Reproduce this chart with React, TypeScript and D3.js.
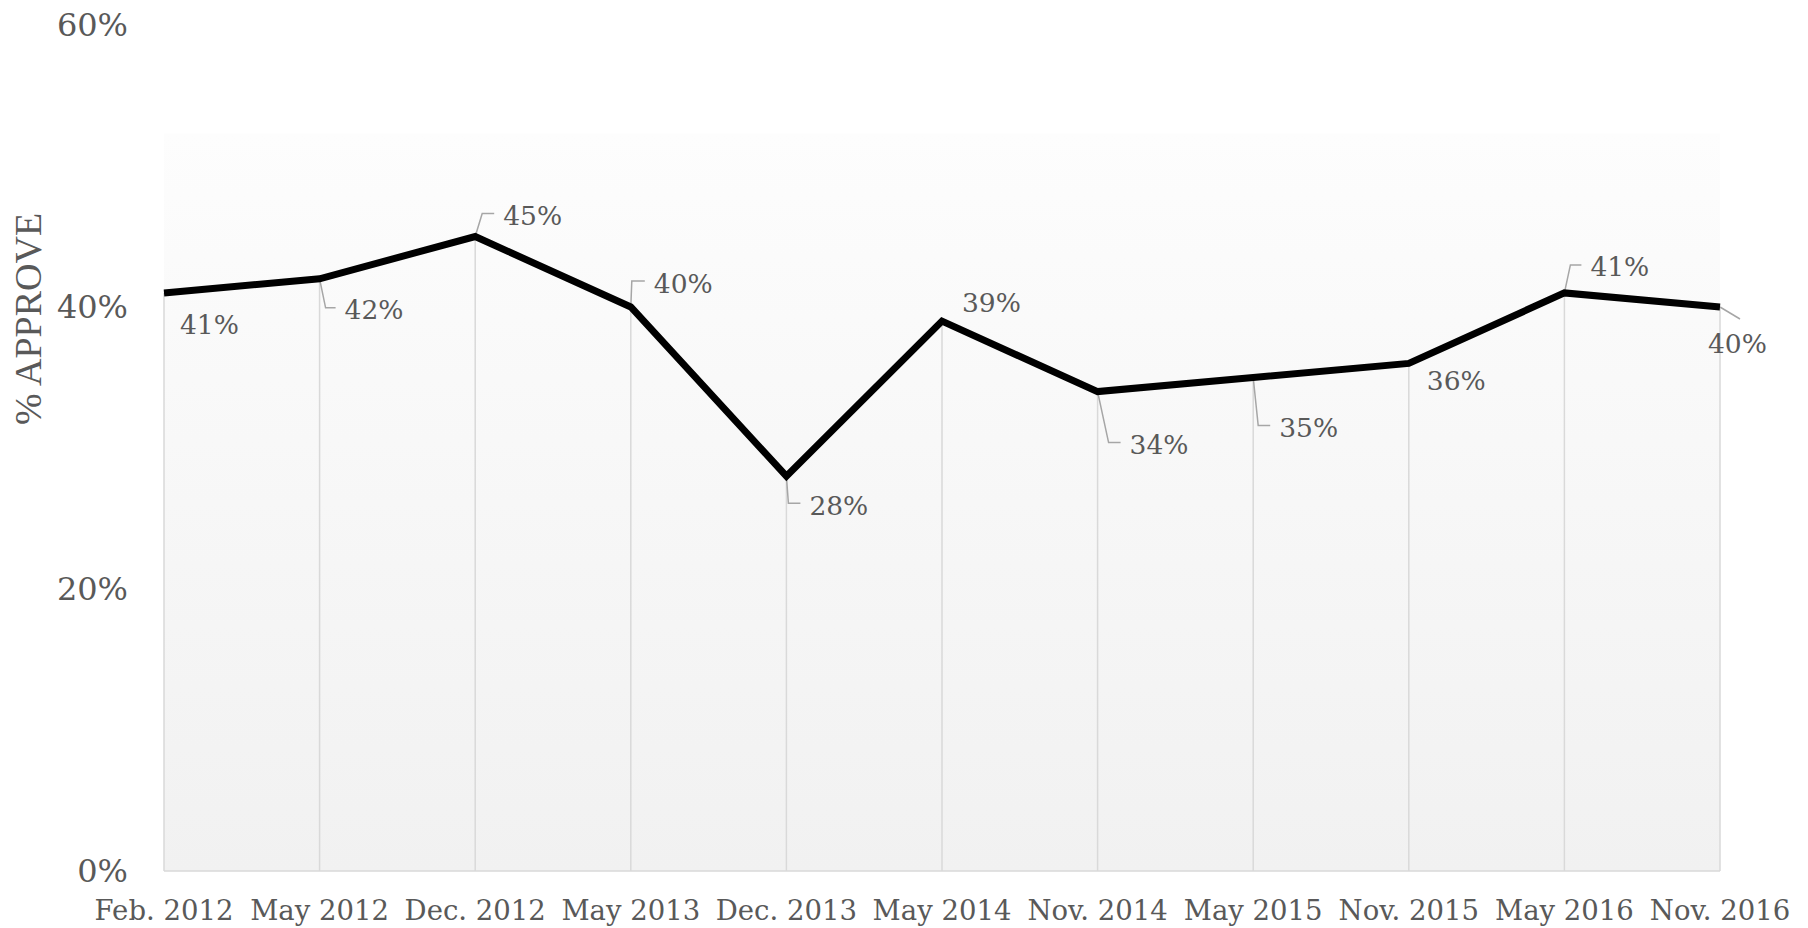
import React from "react";
import * as d3 from "d3";

const categories = [
  "Feb. 2012", "May 2012", "Dec. 2012", "May 2013", "Dec. 2013", "May 2014",
  "Nov. 2014", "May 2015", "Nov. 2015", "May 2016", "Nov. 2016",
];
const approve = [0.41, 0.42, 0.45, 0.40, 0.28, 0.39, 0.34, 0.35, 0.36, 0.41, 0.40];
const yTicks = [0, 0.2, 0.4, 0.6];
const yTitle = "% APPROVE";

// label placement relative to the point: text offset (dx, dy) and leader type
const labelLayout: { dx: number; dy: number; leader: null | number | "diag" }[] = [
  { dx: 16, dy: 32, leader: null },
  { dx: 25, dy: 31, leader: 6 },
  { dx: 28, dy: -21, leader: 7 },
  { dx: 23, dy: -24, leader: 1 },
  { dx: 23, dy: 29, leader: 2 },
  { dx: 20, dy: -19, leader: null },
  { dx: 32, dy: 53, leader: 11 },
  { dx: 26, dy: 50, leader: 5 },
  { dx: 18, dy: 17, leader: null },
  { dx: 26, dy: -26, leader: 6 },
  { dx: -12, dy: 36, leader: "diag" },
];

const W = 1808;
const H = 928;
const left = 164;
const right = 1720;
const bottom = 871;
const top = 25;
const bgTopValue = 0.523;

const serif = "'DejaVu Serif', Georgia, serif";
const textColor = "#595959";

export default function App() {
  const x = d3.scalePoint<string>().domain(categories).range([left, right]);
  const y = d3.scaleLinear().domain([0, 0.6]).range([bottom, top]);
  const line = d3
    .line<number>()
    .x((_, i) => x(categories[i]) as number)
    .y((d) => y(d));
  const fmt = d3.format(".0%");

  return (
    <svg
      width={W}
      height={H}
      style={{ position: "absolute", left: 0, top: 0, background: "#fff" }}
    >
      <defs>
        <linearGradient id="bg" x1="0" y1="0" x2="0" y2="1">
          <stop offset="0" stopColor="#fdfdfd" />
          <stop offset="1" stopColor="#f1f1f1" />
        </linearGradient>
      </defs>
      <rect
        x={left}
        y={y(bgTopValue)}
        width={right - left}
        height={bottom - y(bgTopValue)}
        fill="url(#bg)"
      />
      {/* drop lines */}
      {approve.map((v, i) => (
        <line
          key={"d" + i}
          x1={x(categories[i])}
          x2={x(categories[i])}
          y1={y(v)}
          y2={bottom}
          stroke="#d9d9d9"
          strokeWidth={1.5}
        />
      ))}
      <line x1={left} x2={right} y1={bottom} y2={bottom} stroke="#d9d9d9" strokeWidth={1.5} />
      {/* y ticks */}
      {yTicks.map((t) => (
        <text
          key={"t" + t}
          x={128}
          y={y(t)}
          textAnchor="end"
          dominantBaseline="central"
          fontFamily={serif}
          fontSize={32}
          fill={textColor}
        >
          {fmt(t)}
        </text>
      ))}
      {/* x labels */}
      {categories.map((c) => (
        <text
          key={c}
          x={x(c)}
          y={910}
          textAnchor="middle"
          dominantBaseline="central"
          fontFamily={serif}
          fontSize={27.5}
          fill={textColor}
        >
          {c}
        </text>
      ))}
      <text
        transform={`translate(28,${319}) rotate(-90)`}
        textAnchor="middle"
        dominantBaseline="central"
        fontFamily="'Liberation Serif', 'Times New Roman', serif"
        fontSize={38}
        fill={textColor}
      >
        {yTitle}
      </text>
      {/* leaders */}
      {approve.map((v, i) => {
        const L = labelLayout[i];
        if (L.leader === null) return null;
        const px = x(categories[i]) as number;
        const py = y(v);
        const tx = px + L.dx;
        const ty = py + L.dy;
        let pts: [number, number][];
        if (L.leader === "diag") {
          pts = [
            [px, py],
            [px + 20, py + 12],
          ];
        } else {
          const cy = ty - 2;
          pts = [
            [px, py],
            [px + L.leader, cy],
            [tx - 9, cy],
          ];
        }
        return (
          <polyline
            key={"l" + i}
            points={pts.map((p) => p.join(",")).join(" ")}
            fill="none"
            stroke="#a6a6a6"
            strokeWidth={1.5}
          />
        );
      })}
      <path
        d={line(approve) || ""}
        fill="none"
        stroke="#000"
        strokeWidth={7}
        strokeLinejoin="miter"
      />
      {/* data labels */}
      {approve.map((v, i) => {
        const L = labelLayout[i];
        const px = x(categories[i]) as number;
        const py = y(v);
        return (
          <text
            key={"v" + i}
            x={px + L.dx}
            y={py + L.dy}
            dominantBaseline="central"
            fontFamily={serif}
            fontSize={26.5}
            fill={textColor}
          >
            {fmt(v)}
          </text>
        );
      })}
    </svg>
  );
}
